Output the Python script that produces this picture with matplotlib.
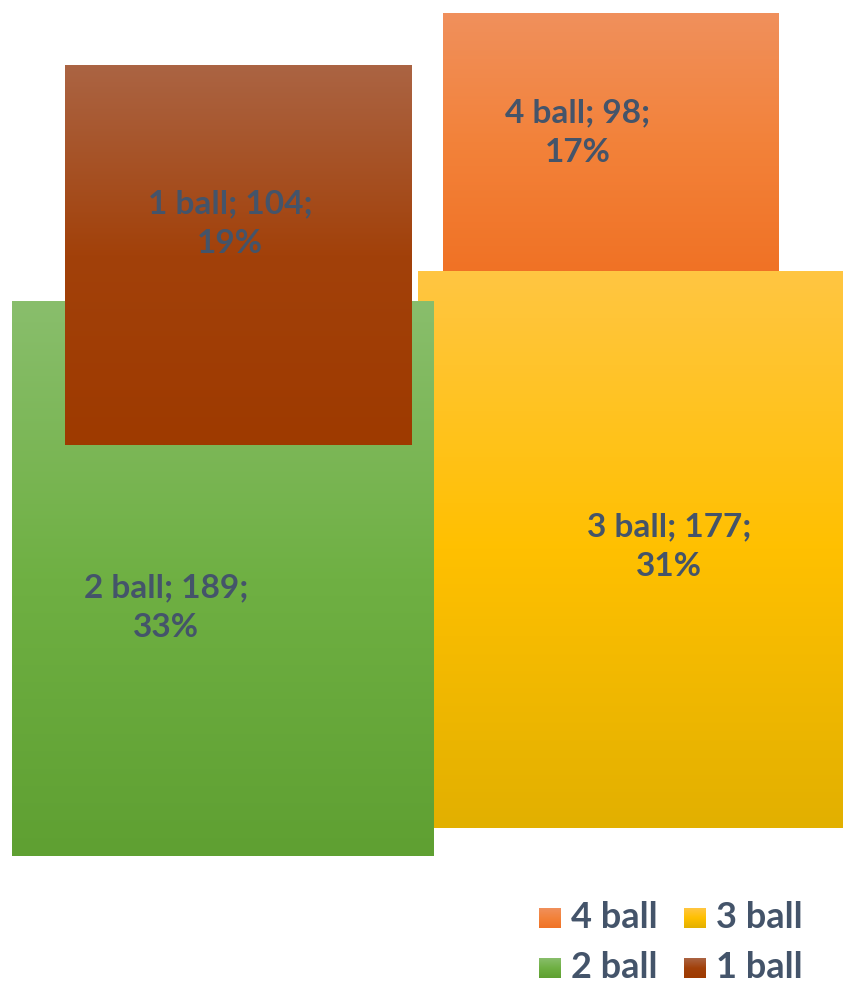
"""Overlapping box chart of ball counts."""

import numpy as np
import matplotlib.pyplot as plt
from matplotlib.colors import LinearSegmentedColormap

# Data
names = ['1 ball', '2 ball', '3 ball', '4 ball']
counts = [104, 189, 177, 98]
shares = [19, 33, 31, 17]

# Gradient colours for each box (top, middle, bottom)
shades = {
    '1 ball': ['#AB6443', '#A2410A', '#9E3A00'],
    '2 ball': ['#89BE6C', '#6FB043', '#5FA032'],
    '3 ball': ['#FFC642', '#FFC000', '#E2B000'],
    '4 ball': ['#F0905C', '#F3823A', '#F07225'],
}

# Box layout in pixels (left, right, top, bottom) and where the label sits
boxes = {
    '3 ball': (418, 843, 271, 828),
    '4 ball': (443, 779, 13, 271),
    '2 ball': (12, 434, 301, 856),
    '1 ball': (65, 412, 65, 445),
}
label_pos = {'1 ball': (230, 224), '2 ball': (166, 608), '3 ball': (669, 547), '4 ball': (578, 133)}
draw_order = ['3 ball', '4 ball', '2 ball', '1 ball']

text_color = '#44546A'
font = ['Lato', 'DejaVu Sans']

W, H = 843, 984
fig = plt.figure(figsize=(W / 100, H / 100), dpi=100)
ax = fig.add_axes([0, 0, 1, 1])
ax.set_xlim(0, W)
ax.set_ylim(H, 0)
ax.axis('off')

grad = np.linspace(0, 1, 256).reshape(-1, 1)


def gradient_box(ax, x0, x1, y0, y1, colors):
    cmap = LinearSegmentedColormap.from_list('g', colors)
    ax.imshow(grad, cmap=cmap, extent=(x0, x1, y1, y0), aspect='auto',
              interpolation='bilinear', zorder=2)


for name in draw_order:
    i = names.index(name)
    x0, x1, y0, y1 = boxes[name]
    gradient_box(ax, x0, x1, y0, y1, shades[name])
    lx, ly = label_pos[name]
    ax.text(lx, ly, '{}; {};\n{}%'.format(name, counts[i], shares[i]),
            ha='center', va='center', fontsize=24, fontweight='bold',
            color=text_color, family=font, linespacing=1.45, zorder=5)

# Legend, two columns
legend_rows = [['4 ball', '3 ball'], ['2 ball', '1 ball']]
for r, row in enumerate(legend_rows):
    for c, name in enumerate(row):
        sx = 539 + c * 145
        sy = 908 + r * 50
        gradient_box(ax, sx, sx + 22, sy, sy + 20, shades[name])
        ax.text(sx + 32, sy + 9, name, ha='left', va='center', fontsize=26,
                fontweight='bold', color=text_color, family=font, zorder=5)

ax.set_xlim(0, W)
ax.set_ylim(H, 0)
fig.savefig('out.png', dpi=100)
